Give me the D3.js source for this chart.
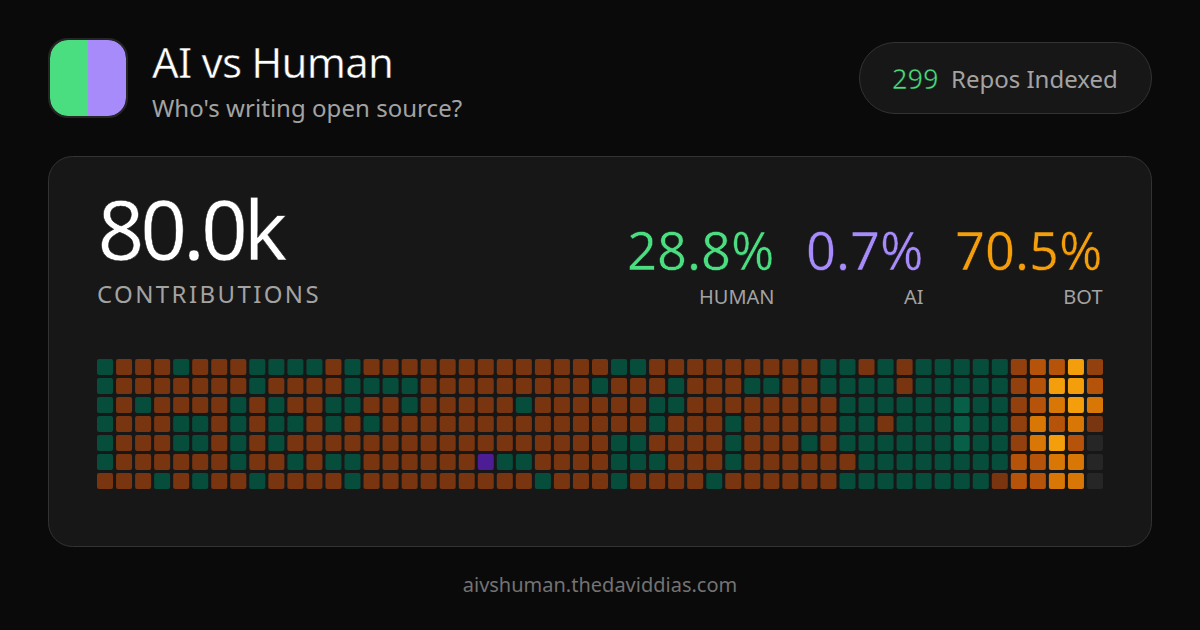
<!DOCTYPE html>
<meta charset="utf-8">
<style>
    html, body { margin: 0; background: #0a0a0a; }
    svg { display: block; }
    text { font-family: "Noto Sans", sans-serif; }
    /* thins the big numbers a little, the reference runs lighter than Regular */
    .thin { paint-order: normal; stroke-width: 0.5px; }
</style>
<svg width="1200" height="630"></svg>

<script src="https://d3js.org/d3.v7.min.js"></script>
<script>
    var title = "AI vs Human";
    var subtitle = "Who's writing open source?";
    var repoCount = "299";
    var repoLabel = "Repos Indexed";
    var total = "80.0k";
    var totalLabel = "CONTRIBUTIONS";
    var footer = "aivshuman.thedaviddias.com";

    var statNames = ["HUMAN", "AI", "BOT"];
    var statValues = ["28.8%", "0.7%", "70.5%"];

    // one string per weekday, one character per week
    // h/H human, a ai, 1-5 bot intensity, 0 nothing
    var week0 = "h111h111hhhh1h1111" + "111111111hh1111111" + "11hh1h1hhhhh" + "23352";
    var week1 = "h1111111h1111hhhh1" + "11111111h111h111hh" + "11hhhh1hhhhh" + "23553";
    var week2 = "h1h1111h1h11hh11h1" + "1111h111111hh11111" + "111hhhhhhHhh" + "23454";
    var week3 = "h111hh1h1hh1h1h111" + "11111111111h111h11" + "111hh1hhhHhh" + "24341";
    var week4 = "h111hh1h1h11111111" + "111111111hh1111h11" + "1h1hhhhhhHhh" + "24530";
    var week5 = "h111111h11h1hh1111" + "11ahh1111hhh111h11" + "1111hhhhhhhh" + "33440";
    var week6 = "111h1h11h1111h1111" + "11111h111h1111h111" + "111hhhhhhhh1" + "33440";
    var weeks = [week0, week1, week2, week3, week4, week5, week6];

    var cellCodes = ["0", "h", "H", "a", "1", "2", "3", "4", "5"];
    var cellColors = ["#262626", "#064e3b", "#065f46", "#4c1d95", "#78350f", "#92400e", "#b45309", "#d97706", "#f59e0b"];

    var svg = d3.select("svg");

    var color = d3.scaleOrdinal().domain(cellCodes).range(cellColors);
    var x = d3.scaleBand().domain(d3.range(weeks[0].length)).range([97, 1103]).paddingInner(3 / 19.04);
    var y = d3.scaleBand().domain(d3.range(weeks.length)).range([359, 489]).paddingInner(3 / 19);

    // logo
    var logoClip = svg.append("clipPath").attr("id", "logo-clip");
    logoClip.append("rect").attr("x", 50).attr("y", 40).attr("width", 76).attr("height", 76).attr("rx", 18);
    var logo = svg.append("g").attr("clip-path", "url(#logo-clip)");
    logo.append("rect").attr("x", 50).attr("y", 40).attr("width", 38).attr("height", 76).attr("fill", "#4ade80");
    logo.append("rect").attr("x", 88).attr("y", 40).attr("width", 38).attr("height", 76).attr("fill", "#a78bfa");
    svg.append("rect").attr("x", 49).attr("y", 39).attr("width", 78).attr("height", 78).attr("rx", 19)
        .attr("fill", "none").attr("stroke", "#262626").attr("stroke-width", 2);

    svg.append("text").attr("class", "thin").attr("stroke", "#0a0a0a").attr("x", 152).attr("y", 77.5).attr("font-size", 42).attr("letter-spacing", -0.84).attr("fill", "#fff").text(title);
    svg.append("text").attr("x", 152).attr("y", 117).attr("font-size", 24).attr("letter-spacing", 0.04).attr("fill", "#a3a3a3").text(subtitle);

    // repos pill
    svg.append("rect").attr("x", 859.5).attr("y", 42.5).attr("width", 292).attr("height", 71).attr("rx", 35.5)
        .attr("fill", "#171717").attr("stroke", "#333");
    svg.append("text").attr("class", "thin").attr("stroke", "#171717").attr("x", 892).attr("y", 89).attr("font-size", 27).attr("fill", "#4ade80").text(repoCount);
    svg.append("text").attr("x", 951).attr("y", 88).attr("font-size", 24).attr("fill", "#a3a3a3").text(repoLabel);

    // card
    svg.append("rect").attr("x", 48.5).attr("y", 156.5).attr("width", 1103).attr("height", 390).attr("rx", 24)
        .attr("fill", "#171717").attr("stroke", "#333");

    svg.append("text").attr("class", "thin").attr("stroke", "#171717").attr("x", 97.5).attr("y", 260).attr("font-size", 82).attr("letter-spacing", -4.1).attr("fill", "#fff").text(total);
    svg.append("text").attr("x", 97).attr("y", 303).attr("font-size", 24).attr("letter-spacing", 2.4).attr("fill", "#a3a3a3").text(totalLabel);

    var statColors = ["#4ade80", "#a78bfa", "#f59e0b"];
    var statRight = [774.5, 923.5, 1102.5];
    statNames.forEach(function (name, i) {
        svg.append("text").attr("class", "thin").attr("stroke", "#171717").attr("x", statRight[i]).attr("y", 269.5).attr("text-anchor", "end")
            .attr("font-size", 52.4).attr("fill", statColors[i]).text(statValues[i]);
        svg.append("text").attr("x", statRight[i]).attr("y", 304).attr("text-anchor", "end")
            .attr("font-size", 20).attr("fill", "#a3a3a3").text(name);
    });

    // heatmap
    var cells = [];
    weeks.forEach(function (row, r) {
        row.split("").forEach(function (code, c) {
            cells.push({row: r, col: c, code: code});
        });
    });

    svg.append("g").selectAll("rect")
        .data(cells)
        .enter().append("rect")
        .attr("x", function (d) { return x(d.col); })
        .attr("y", function (d) { return y(d.row); })
        .attr("width", x.bandwidth())
        .attr("height", y.bandwidth())
        .attr("rx", 2)
        .attr("fill", function (d) { return color(d.code); });

    svg.append("text").attr("x", 600).attr("y", 592).attr("text-anchor", "middle")
        .attr("font-size", 20).attr("fill", "#737373").text(footer);
</script>
